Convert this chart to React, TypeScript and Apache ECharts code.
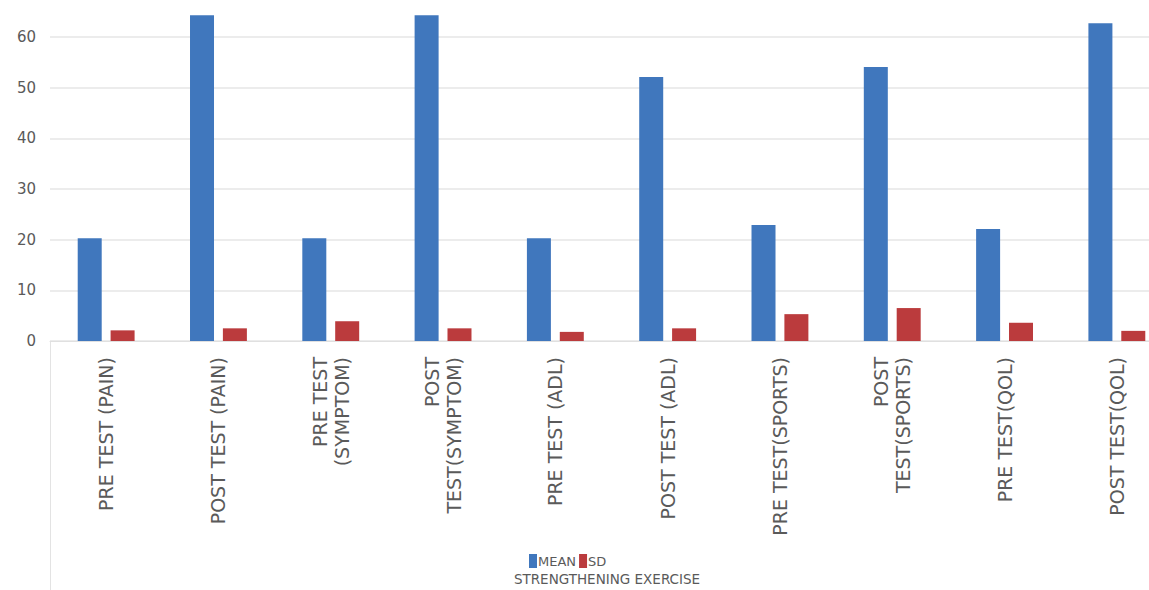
import React, { useEffect, useRef } from "react";
import * as echarts from "echarts";

const categories = [
  "PRE TEST (PAIN)",
  "POST TEST (PAIN)",
  "PRE TEST\n(SYMPTOM)",
  "POST\nTEST(SYMPTOM)",
  "PRE TEST (ADL)",
  "POST TEST (ADL)",
  "PRE TEST(SPORTS)",
  "POST\nTEST(SPORTS)",
  "PRE TEST(QOL)",
  "POST TEST(QOL)",
];
const meanValues = [20.3, 64.3, 20.3, 64.3, 20.3, 52.1, 22.9, 54.1, 22.1, 62.7];
const sdValues = [2.1, 2.5, 3.9, 2.5, 1.8, 2.5, 5.3, 6.5, 3.6, 2.0];
const seriesNames = ["MEAN", "SD"];
const axisName = "STRENGTHENING EXERCISE";

export default function App() {
  const ref = useRef<HTMLDivElement>(null);
  useEffect(() => {
    if (!ref.current) return;
    const chart = echarts.init(ref.current, null, { renderer: "svg" });
    const textColor = "#5a5a5a";
    const font = "'DejaVu Sans', sans-serif";
    chart.setOption({
      animation: false,
      backgroundColor: "#ffffff",
      textStyle: { fontFamily: font },
      grid: { left: 50, top: 0, width: 1123, height: 341, containLabel: false },
      legend: {
        data: seriesNames,
        left: 529,
        top: 554,
        itemWidth: 8,
        itemHeight: 14,
        itemGap: 3,
        icon: "rect",
        padding: 0,
        textStyle: { color: textColor, fontSize: 13, fontFamily: font, padding: [0, 0, 0, -4] },
      },
      graphic: [
        {
          type: "line",
          shape: { x1: 50.5, y1: 341, x2: 50.5, y2: 590 },
          style: { stroke: "#e3e3e3", lineWidth: 1 },
        },
        {
          type: "text",
          x: 607,
          y: 579,
          style: {
            text: axisName,
            fill: textColor,
            fontSize: 13.5,
            fontFamily: font,
            align: "center",
            verticalAlign: "middle",
          },
        },
      ],
      xAxis: {
        type: "category",
        data: categories,
        axisLine: { lineStyle: { color: "#e0e0e0" } },
        axisTick: { show: false },
        axisLabel: {
          rotate: 90,
          interval: 0,
          color: textColor,
          fontSize: 19,
          fontFamily: font,
          margin: 16,
          lineHeight: 22,
        },
      },
      yAxis: {
        type: "value",
        min: 0,
        max: 67.3,
        interval: 10,
        axisLine: { show: false },
        axisTick: { show: false },
        axisLabel: {
          color: textColor,
          fontSize: 15,
          fontFamily: font,
          margin: 14,
          showMaxLabel: false,
        },
        splitLine: {
          showMaxLine: false,
          lineStyle: { color: "#e6e6e6", width: 1.5 },
        },
      },
      series: [
        {
          name: seriesNames[0],
          type: "bar",
          data: meanValues,
          barWidth: 24,
          barGap: "37%",
          itemStyle: { color: "#4077bd" },
        },
        {
          name: seriesNames[1],
          type: "bar",
          data: sdValues,
          barWidth: 24,
          barGap: "37%",
          itemStyle: { color: "#bb3b3d" },
        },
      ],
    });
    return () => chart.dispose();
  }, []);
  return (
    <div
      style={{
        position: "absolute",
        left: 0,
        top: 0,
        width: 1149,
        height: 590,
        overflow: "hidden",
        background: "#ffffff",
      }}
    >
      <div ref={ref} style={{ position: "absolute", left: 0, top: 0, width: 1175, height: 590 }} />
    </div>
  );
}
